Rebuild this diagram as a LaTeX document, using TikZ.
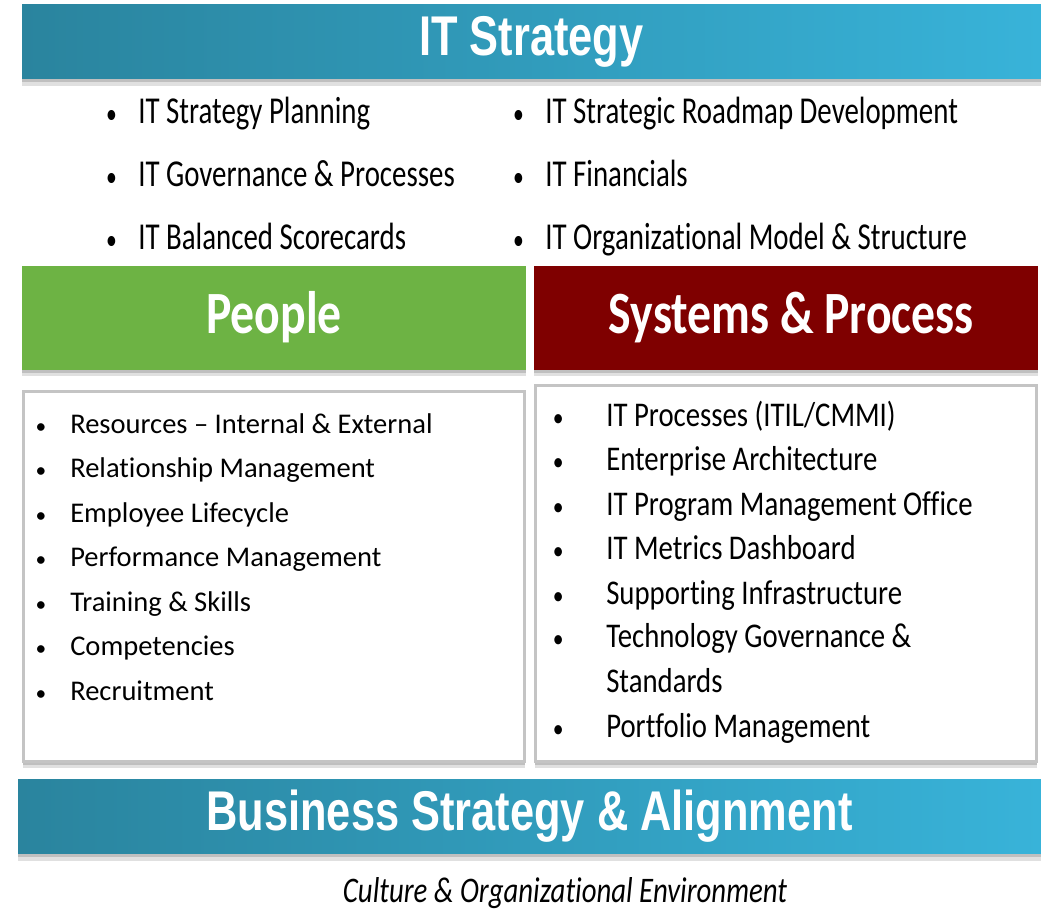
\documentclass[tikz,border=0pt]{standalone}
\usepackage{fontspec}
\defaultfontfeatures{Ligatures={NoCommon,NoContextual},RawFeature={-calt}}
\setmainfont{Carlito}
\newfontfamily\bannerfont{Liberation Sans}[FakeStretch=0.775]
\newfontfamily\headfont{Carlito}[FakeStretch=0.795]
\newfontfamily\toplist{Carlito}[FakeStretch=0.76]
\newfontfamily\peoplelist{Carlito}
\newfontfamily\syslist{Carlito}[FakeStretch=0.83]
\newfontfamily\notefont{Carlito}[FakeStretch=0.8]
\usetikzlibrary{positioning,shadows}

\definecolor{tealdark}{HTML}{2A849E}
\definecolor{teallight}{HTML}{38B3D9}
\definecolor{peoplegreen}{HTML}{6DB344}
\definecolor{sysred}{HTML}{7F0000}
\definecolor{boxgray}{HTML}{C4C4C4}

% bullet hanging in front of the item text
\newcommand{\bul}[1]{\llap{\scalebox{0.75}{\textbullet}\hspace{#1}}}

\begin{document}
\begin{tikzpicture}[x=0.75pt,y=-0.75pt,node distance=384pt,on grid,
    shade/.style={drop shadow={shadow xshift=0pt,shadow yshift=-2.5pt,fill=black,opacity=0.15},
        drop shadow={shadow xshift=0pt,shadow yshift=-5pt,fill=black,opacity=0.12}},
    banner/.style={shade,left color=tealdark,right color=teallight,draw=none,
        minimum width=764pt,minimum height=56pt,text=white,
        font=\bannerfont\bfseries\fontsize{42pt}{46pt}\selectfont},
    header/.style={shade,draw=none,minimum width=378pt,minimum height=78pt,
        text=white,font=\headfont\bfseries\fontsize{45pt}{50pt}\selectfont},
    listbox/.style={shade,fill=white,draw=boxgray,line width=2.25pt,minimum width=376pt},
    item/.style={anchor=base west,inner sep=0pt,align=left}]

\useasboundingbox (0,0) rectangle (1048,908);

% strategy banner and its bullet points
\node[banner] (itstrat) at (531.5,41.5) {IT Strategy};

\node[item,font=\toplist\fontsize{28.5pt}{34pt}\selectfont] (s1) at (138,123) {\bul{16pt}IT Strategy Planning};
\node[item,font=\toplist\fontsize{28.5pt}{34pt}\selectfont] (s2) at (138,186) {\bul{16pt}IT Governance \& Processes};
\node[item,font=\toplist\fontsize{28.5pt}{34pt}\selectfont] (s3) at (138,249) {\bul{16pt}IT Balanced Scorecards};
\node[item,font=\toplist\fontsize{28.5pt}{34pt}\selectfont] (s4) at (545,123) {\bul{16pt}IT Strategic Roadmap Development};
\node[item,font=\toplist\fontsize{28.5pt}{34pt}\selectfont] (s5) at (545,186) {\bul{16pt}IT Financials};
\node[item,font=\toplist\fontsize{28.5pt}{34pt}\selectfont] (s6) at (545,249) {\bul{16pt}IT Organizational Model \& Structure};

% the two pillars
\node[header,fill=peoplegreen] (people) at (274,317.5) {People};
\node[header,fill=sysred] (sys) [right=of people] {\hspace*{8pt}Systems \& Process};

\node[listbox,minimum height=277pt] (pbox) at (274,576.5) {};
\node[listbox,minimum height=282pt] (sbox) [right=of pbox,yshift=2.25pt] {};

\node[item,font=\peoplelist\fontsize{21.4pt}{26pt}\selectfont] (p1) at (70,433) {\bul{18pt}Resources – Internal \& External};
\node[item,font=\peoplelist\fontsize{21.4pt}{26pt}\selectfont] (p2) at (70,477.5) {\bul{18pt}Relationship Management};
\node[item,font=\peoplelist\fontsize{21.4pt}{26pt}\selectfont] (p3) at (70,522) {\bul{18pt}Employee Lifecycle};
\node[item,font=\peoplelist\fontsize{21.4pt}{26pt}\selectfont] (p4) at (70,566.5) {\bul{18pt}Performance Management};
\node[item,font=\peoplelist\fontsize{21.4pt}{26pt}\selectfont] (p5) at (70,611) {\bul{18pt}Training \& Skills};
\node[item,font=\peoplelist\fontsize{21.4pt}{26pt}\selectfont] (p6) at (70,655.5) {\bul{18pt}Competencies};
\node[item,font=\peoplelist\fontsize{21.4pt}{26pt}\selectfont] (p7) at (70,700) {\bul{18pt}Recruitment};

\node[item,font=\syslist\fontsize{26pt}{33.3pt}\selectfont] (q1) at (606,426) {\bul{32pt}IT Processes (ITIL/CMMI)};
\node[item,font=\syslist\fontsize{26pt}{33.3pt}\selectfont] (q2) at (606,470.5) {\bul{32pt}Enterprise Architecture};
\node[item,font=\syslist\fontsize{26pt}{33.3pt}\selectfont] (q3) at (606,515) {\bul{32pt}IT Program Management Office};
\node[item,font=\syslist\fontsize{26pt}{33.3pt}\selectfont] (q4) at (606,559) {\bul{32pt}IT Metrics Dashboard};
\node[item,font=\syslist\fontsize{26pt}{33.3pt}\selectfont] (q5) at (606,604) {\bul{32pt}Supporting Infrastructure};
\node[item,font=\syslist\fontsize{26pt}{33.3pt}\selectfont] (q6) at (606,692) {\bul{32pt}Technology Governance \&\\Standards};
\node[item,font=\syslist\fontsize{26pt}{33.3pt}\selectfont] (q7) at (606,737) {\bul{32pt}Portfolio Management};

% foundation
\node[banner,minimum width=767pt] (bizstrat) at (529.5,816.5) {Business Strategy \& Alignment};
\node[font=\notefont\itshape\fontsize{27pt}{30pt}\selectfont,anchor=base] (culture) at (565,902) {Culture \& Organizational Environment};

\end{tikzpicture}
\end{document}
